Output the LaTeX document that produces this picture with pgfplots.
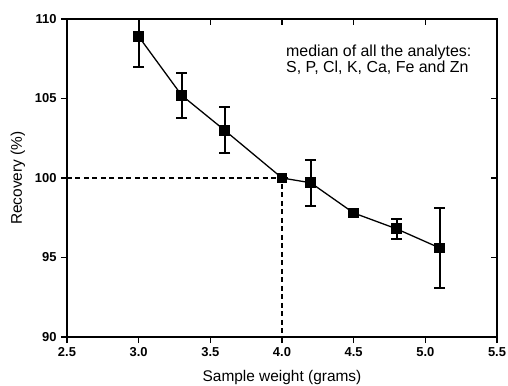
\documentclass[border=0pt]{standalone}
\usepackage{pgfplots}
\pgfplotsset{compat=1.18}
\usepackage{fontspec}
\setmainfont{Liberation Sans}
\begin{document}
\begin{tikzpicture}
\begin{axis}[
  scale only axis, width=430bp, height=318bp,
  xmin=2.5, xmax=5.5, ymin=90, ymax=110,
  xtick={2.5,3.0,3.5,4.0,4.5,5.0,5.5},
  ytick={90,95,100,105,110},
  xticklabels={2.5,3.0,3.5,4.0,4.5,5.0,5.5},
  tick align=outside, xtick pos=bottom, ytick pos=left,
  major tick length=6bp,
  axis line style={line width=1.8bp},
  tick style={line width=1.4bp, black},
  /pgf/number format/assume math mode=true,
  ticklabel style={font=\fontsize{13}{13}\selectfont\bfseries},
  xticklabel style={yshift=-1bp},
  yticklabel style={xshift=-1bp},
  xlabel={Sample weight (grams)}, ylabel={Recovery (\%)},
  label style={font=\fontsize{15.5}{16}\selectfont},
  xlabel style={at={(axis description cs:0.5,0)}, anchor=center, yshift=-41bp},
  ylabel style={at={(axis description cs:0,0.5)}, anchor=center, yshift=49bp},
  clip=true,
]
\addplot[dashed, line width=1.1bp, dash pattern=on 5bp off 3.5bp] coordinates {(2.5,100) (4.0,100) (4.0,90)};
\addplot[black, line width=1.3bp, mark=square*, mark size=4.8bp,
  error bars/.cd, y dir=both, y explicit,
  error bar style={line width=2bp},
  error mark options={rotate=90, mark size=5.5bp, line width=2bp}]
  coordinates {
  (3.0,108.9) +- (0,1.9)
  (3.3,105.2) +- (0,1.4)
  (3.6,103.0) +- (0,1.45)
  (4.0,100.0) +- (0,0)
  (4.2,99.7) +- (0,1.45)
  (4.5,97.8) +- (0,0.15)
  (4.8,96.8) +- (0,0.65)
  (5.1,95.6) +- (0,2.5)
  };
\node[anchor=base west, font=\fontsize{16}{16}\selectfont, inner sep=0pt] at (axis cs:4.028,107.67) {median of all the analytes:};
\node[anchor=base west, font=\fontsize{16}{16}\selectfont, inner sep=0pt] at (axis cs:4.028,106.64) {S, P, Cl, K, Ca, Fe and Zn};
\coordinate (sw) at (rel axis cs:0,0);
\coordinate (ne) at (rel axis cs:1,1);
\end{axis}
\begin{axis}[
  scale only axis, width=430bp, height=318bp,
  xmin=2.5, xmax=5.5, ymin=90, ymax=110,
  xtick={3.0,3.5,4.0,4.5,5.0}, ytick={95,100,105},
  xticklabels={}, yticklabels={},
  tick align=inside, xtick pos=top, ytick pos=right,
  major tick length=6bp,
  axis line style={draw=none},
  tick style={line width=1.4bp, black},
]
\end{axis}
\pgfresetboundingbox
\path (sw) ++(-67bp,-49bp) rectangle ([shift={(11bp,19bp)}]ne);
\end{tikzpicture}
\end{document}
